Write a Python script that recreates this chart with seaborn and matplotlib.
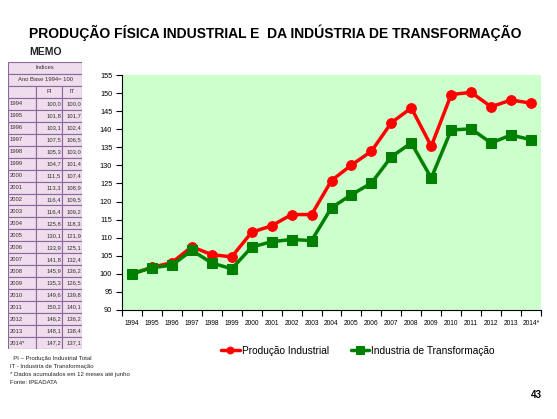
import numpy as np
import pandas as pd
import matplotlib
matplotlib.use("Agg")
import matplotlib.pyplot as plt
from matplotlib.patches import Rectangle
import seaborn as sns

anos = ["1994", "1995", "1996", "1997", "1998", "1999", "2000", "2001", "2002", "2003",
        "2004", "2005", "2006", "2007", "2008", "2009", "2010", "2011", "2012", "2013", "2014*"]
prod_industrial = [100.0, 101.8, 103.1, 107.5, 105.3, 104.7, 111.5, 113.3, 116.4, 116.4,
                   125.8, 130.1, 133.9, 141.8, 145.9, 135.3, 149.6, 150.2, 146.2, 148.1, 147.2]
ind_transf = [100.0, 101.7, 102.4, 106.5, 103.0, 101.4, 107.4, 108.9, 109.5, 109.2,
              118.3, 121.9, 125.1, 132.4, 136.2, 126.5, 139.8, 140.1, 136.2, 138.4, 137.1]
y_ticks = list(range(90, 160, 5))

sns.set_style("white")
plt.rcParams["font.family"] = ["Liberation Sans", "DejaVu Sans"]
plt.rcParams["text.color"] = "black"
plt.rcParams["xtick.color"] = "black"
plt.rcParams["ytick.color"] = "black"

df = pd.DataFrame({"pos": np.arange(len(anos)), "ano": anos,
                   "PI": prod_industrial, "IT": ind_transf})

fig = plt.figure(figsize=(5.57, 4.19), dpi=100)
fig.patch.set_facecolor("white")

# chart
ax = fig.add_axes([122 / 557, 109 / 419, 419 / 557, 235 / 419])
ax.set_facecolor("#ccffcc")
sns.lineplot(data=df, x="pos", y="PI", ax=ax, color="#ff0000", linewidth=2.5,
             marker="o", markersize=7, markeredgecolor="#ff0000",
             label="Produção Industrial")
sns.lineplot(data=df, x="pos", y="IT", ax=ax, color="#008000", linewidth=2.5,
             marker="s", markersize=7.5, markeredgecolor="#008000",
             label="Industria de Transformação")
ax.set_xlim(-0.5, len(anos) - 0.5)
ax.set_ylim(90, 155)
ax.set_yticks(y_ticks)
ax.set_yticklabels([str(v) for v in y_ticks], fontsize=5.3)
ax.set_xticks(df["pos"])
ax.set_xticklabels(anos, fontsize=4.8)
ax.set_xticks(np.arange(-0.5, len(anos)), minor=True)
ax.tick_params(axis="x", which="major", length=0, pad=7)
ax.tick_params(axis="x", which="minor", length=4, width=0.8, color="black", bottom=True)
ax.tick_params(axis="y", length=4, width=0.8, color="black", left=True, pad=3)
ax.set_xlabel("")
ax.set_ylabel("")
for s in ["top", "right"]:
    ax.spines[s].set_visible(False)
for s in ["left", "bottom"]:
    ax.spines[s].set_color("black")
    ax.spines[s].set_linewidth(0.8)
ax.get_legend().remove()
handles, labels = ax.get_legend_handles_labels()
fig.legend(handles, labels, loc="center", bbox_to_anchor=(358 / 557, 1 - 351 / 419),
           ncol=2, frameon=False, fontsize=7.3, handlelength=1.8, columnspacing=2.2,
           handletextpad=0.2, markerscale=0.7)

# table
tab = fig.add_axes([8 / 557, 70 / 419, 74 / 557, 287 / 419])
tab.set_xlim(0, 74)
tab.set_ylim(24, 0)
tab.axis("off")
fill = "#efdcec"
edge = "#8a6a9a"
txt = "#333333"
cols = [0, 28, 54, 74]
for r in range(24):
    if r < 2:
        tab.add_patch(Rectangle((0, r), 74, 1, facecolor=fill, edgecolor=edge, linewidth=0.8))
    else:
        for c in range(3):
            tab.add_patch(Rectangle((cols[c], r), cols[c + 1] - cols[c], 1,
                                    facecolor=fill, edgecolor=edge, linewidth=0.8))
fs = 4.2
tab.text(37, 0.5, "Indices", ha="center", va="center", fontsize=fs, color=txt)
tab.text(37, 1.5, "Ano Base 1994= 100", ha="center", va="center", fontsize=fs, color=txt)
tab.text(41, 2.5, "PI", ha="center", va="center", fontsize=fs, color=txt)
tab.text(64, 2.5, "IT", ha="center", va="center", fontsize=fs, color=txt)
for i, ano in enumerate(anos):
    r = i + 3.5
    tab.text(2, r, ano, ha="left", va="center", fontsize=fs, color=txt)
    tab.text(53, r, f"{prod_industrial[i]:.1f}".replace(".", ","), ha="right",
             va="center", fontsize=fs, color=txt)
    tab.text(73.5, r, f"{ind_transf[i]:.1f}".replace(".", ","), ha="right",
             va="center", fontsize=fs, color=txt)

# titles and notes
fig.text(29 / 557, 1 - 33 / 419, "PRODUÇÃO FÍSICA INDUSTRIAL E  DA INDÚSTRIA DE TRANSFORMAÇÃO",
         fontsize=10, fontweight="bold", va="center", ha="left", color="black")
fig.text(29 / 557, 1 - 52 / 419, "MEMO", fontsize=7.5, fontweight="bold", va="center",
         ha="left", color="#222222")
notas = ["  PI – Produção Industrial Total", "IT - Industria de Transformação",
         "* Dados acumulados em 12 meses até junho", "Fonte: IPEADATA"]
for i, n in enumerate(notas):
    fig.text(10 / 557, 1 - (358 + i * 8.3) / 419, n, fontsize=4.3, va="center",
             ha="left", color="#222222")
fig.text(536 / 557, 1 - 395 / 419, "43", fontsize=7, fontweight="bold", va="center", ha="center")

fig.savefig("out.png", dpi=100)
